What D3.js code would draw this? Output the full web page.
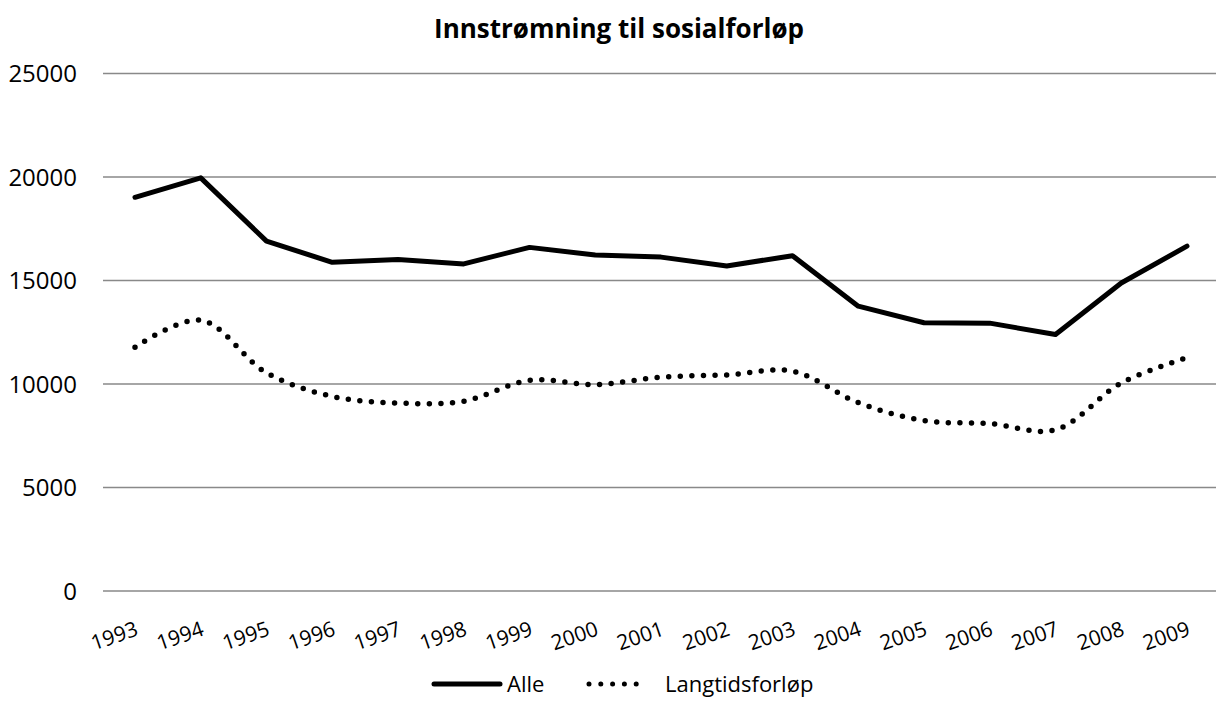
<!DOCTYPE html>
<html>
<head>
<meta charset="utf-8">
<script src="https://cdn.jsdelivr.net/npm/d3@7"></script>
<style>
  body { margin: 0; background: #fff; }
  svg text { font-family: "Open Sans", sans-serif; fill: #000; }
</style>
</head>
<body>
<div id="chart"></div>
<script>
var years = ['1993','1994','1995','1996','1997','1998','1999','2000','2001','2002','2003','2004','2005','2006','2007','2008','2009'];
var alle = [19020, 19960, 16900, 15880, 16010, 15800, 16600, 16230, 16130, 15700, 16200, 13760, 12960, 12940, 12390, 14880, 16660];
var langtid = [11780, 13080, 10540, 9400, 9080, 9170, 10180, 9970, 10330, 10440, 10620, 9100, 8230, 8090, 7790, 10050, 11270];
var yTicks = [0, 5000, 10000, 15000, 20000, 25000];

var width = 1219, height = 713;
var svg = d3.select('#chart').append('svg')
  .attr('width', width)
  .attr('height', height);

var x = d3.scalePoint().domain(years).range([135, 1187]);
var y = d3.scaleLinear().domain([0, 25000]).range([591, 73.5]);

// gridlines
svg.append('g').selectAll('line')
  .data(yTicks)
  .enter().append('line')
  .attr('x1', 103).attr('x2', 1216)
  .attr('y1', function(d) { return y(d); })
  .attr('y2', function(d) { return y(d); })
  .style('stroke', '#898989')
  .style('stroke-width', 1.5);

// y labels
svg.append('g').selectAll('text')
  .data(yTicks)
  .enter().append('text')
  .attr('x', 77)
  .attr('y', function(d) { return y(d); })
  .attr('dy', '0.36em')
  .attr('text-anchor', 'end')
  .style('font-size', '24px')
  .text(function(d) { return d; });

// x labels
svg.append('g').selectAll('text')
  .data(years)
  .enter().append('text')
  .attr('transform', function(d) { return 'translate(' + (x(d) + 2) + ',628) rotate(-19)'; })
  .attr('text-anchor', 'end')
  .attr('dy', '0.35em')
  .style('font-size', '21px')
  .text(function(d) { return d; });

var line = d3.line()
  .x(function(d, i) { return x(years[i]); })
  .y(function(d) { return y(d); });

svg.append('path')
  .datum(alle)
  .attr('d', line)
  .style('fill', 'none')
  .style('stroke', '#000')
  .style('stroke-width', 5)
  .style('stroke-linejoin', 'round')
  .style('stroke-linecap', 'round');

svg.append('path')
  .datum(langtid)
  .attr('d', line.curve(d3.curveCatmullRom.alpha(0.5)))
  .style('fill', 'none')
  .style('stroke', '#000')
  .style('stroke-width', 5.5)
  .style('stroke-dasharray', '0 11.6')
  .style('stroke-linecap', 'round');

// title
svg.append('text')
  .attr('x', 619)
  .attr('y', 38)
  .attr('text-anchor', 'middle')
  .style('font-size', '26px')
  .style('font-weight', 'bold')
  .text('Innstrømning til sosialforløp');

// legend
var legend = svg.append('g');
legend.append('line')
  .attr('x1', 434).attr('x2', 500).attr('y1', 684).attr('y2', 684)
  .style('stroke', '#000').style('stroke-width', 5).style('stroke-linecap', 'round');
legend.append('text')
  .attr('x', 507).attr('y', 684).attr('dy', '0.36em')
  .style('font-size', '22px')
  .text('Alle');
legend.append('line')
  .attr('x1', 589).attr('x2', 648).attr('y1', 684).attr('y2', 684)
  .style('stroke', '#000').style('stroke-width', 5)
  .style('stroke-dasharray', '0 11.8').style('stroke-linecap', 'round');
legend.append('text')
  .attr('x', 665).attr('y', 684).attr('dy', '0.36em')
  .style('font-size', '22px')
  .text('Langtidsforløp');
</script>
</body>
</html>
